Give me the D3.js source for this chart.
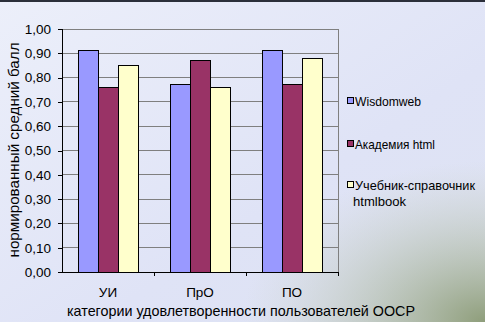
<!DOCTYPE html>
<html>
<head>
<meta charset="utf-8">
<script src="https://cdn.jsdelivr.net/npm/d3@7"></script>
<style>
  html, body { margin: 0; padding: 0; }
  body { width: 485px; height: 322px; overflow: hidden; }
  svg { display: block; font-family: "Liberation Sans", Arial, sans-serif; }
</style>
</head>
<body>
<div id="chart"></div>
<script>
const categories = ["УИ", "ПрО", "ПО"]
const seriesNames = ["Wisdomweb", "Академия html", "Учебник-справочник htmlbook"]
const wisdomweb = [0.91, 0.77, 0.91]
const akademia = [0.76, 0.87, 0.77]
const htmlbook = [0.85, 0.76, 0.88]
const yTicks = [0, 0.1, 0.2, 0.3, 0.4, 0.5, 0.6, 0.7, 0.8, 0.9, 1.0]
const colors = ["#9999ff", "#993366", "#ffffcc"]

const seriesValues = [wisdomweb, akademia, htmlbook]

const W = 485, H = 322
const margin = { top: 29, right: 147, bottom: 50, left: 62 }
const width = W - margin.left - margin.right
const height = H - margin.top - margin.bottom

const svg = d3.select("#chart").append("svg")
    .attr("width", W)
    .attr("height", H)

// background
const defs = svg.append("defs")
const bg = defs.append("linearGradient")
    .attr("id", "bg")
    .attr("x1", 0).attr("y1", 0).attr("x2", 1).attr("y2", 1)
bg.append("stop").attr("offset", "0%").attr("stop-color", "#eceffa")
bg.append("stop").attr("offset", "60%").attr("stop-color", "#dfe3f6")
bg.append("stop").attr("offset", "100%").attr("stop-color", "#dde2f2")
const glow = defs.append("radialGradient")
    .attr("id", "glow")
    .attr("cx", 1).attr("cy", 1).attr("r", 0.5)
glow.append("stop").attr("offset", "0%").attr("stop-color", "#8a9a74").attr("stop-opacity", 0.95)
glow.append("stop").attr("offset", "100%").attr("stop-color", "#c8d0c0").attr("stop-opacity", 0)

svg.append("rect").attr("width", W).attr("height", H).attr("fill", "url(#bg)")
svg.append("rect").attr("width", W).attr("height", H).attr("fill", "url(#glow)")
svg.append("rect").attr("width", W).attr("height", 2).attr("fill", "#2b2f3a")

const g = svg.append("g")
    .attr("transform", "translate(" + margin.left + "," + margin.top + ")")

const x0 = d3.scaleBand()
    .domain(categories)
    .range([0, width])
const x1 = d3.scaleBand()
    .domain(d3.range(seriesNames.length))
    .range([0, x0.bandwidth()])
    .paddingInner(0)
    .paddingOuter(0.8)
const y = d3.scaleLinear()
    .domain([0, 1])
    .range([height, 0])

// gridlines
g.append("g")
    .selectAll("line")
    .data(yTicks.slice(1))
    .enter()
    .append("line")
    .attr("x1", 0)
    .attr("x2", width)
    .attr("y1", d => y(d))
    .attr("y2", d => y(d))
    .attr("stroke", "#7f7f7f")
    .attr("stroke-width", 1)
    .attr("shape-rendering", "crispEdges")

// plot border
g.append("rect")
    .attr("width", width)
    .attr("height", height)
    .attr("fill", "none")
    .attr("stroke", "#7f7f7f")
    .attr("shape-rendering", "crispEdges")

// bars
const groups = g.append("g")
    .selectAll("g")
    .data(categories)
    .enter()
    .append("g")
    .attr("transform", d => "translate(" + x0(d) + ",0)")

groups.selectAll("rect")
    .data((d, i) => seriesValues.map((vals, s) => ({ s: s, v: vals[i] })))
    .enter()
    .append("rect")
    .attr("x", d => x1(d.s))
    .attr("width", x1.bandwidth())
    .attr("y", d => y(d.v))
    .attr("height", d => height - y(d.v))
    .attr("fill", d => colors[d.s])
    .attr("stroke", "#000")
    .attr("stroke-width", 1)
    .attr("shape-rendering", "crispEdges")

// y axis
const yAxis = g.append("g")
    .call(d3.axisLeft(y)
        .tickValues(yTicks)
        .tickSize(4)
        .tickPadding(7)
        .tickFormat(d => d3.format(".2f")(d).replace(".", ",")))
yAxis.select(".domain").attr("stroke", "#000").attr("shape-rendering", "crispEdges")
yAxis.selectAll(".tick line").attr("stroke", "#000").attr("shape-rendering", "crispEdges")
yAxis.selectAll("text").attr("font-size", 13.5).attr("fill", "#000")
    .attr("font-family", "'Liberation Sans', Arial, sans-serif")

// x axis
const xAxis = g.append("g")
    .attr("transform", "translate(0," + height + ")")
    .call(d3.axisBottom(x0).tickSize(0).tickPadding(15))
xAxis.select(".domain").attr("stroke", "#000").attr("shape-rendering", "crispEdges")
xAxis.selectAll("text").attr("font-size", 13.5).attr("fill", "#000")
    .attr("font-family", "'Liberation Sans', Arial, sans-serif")

// category separator ticks
g.append("g")
    .selectAll("line")
    .data(categories)
    .enter()
    .append("line")
    .attr("x1", d => x0(d) + x0.bandwidth())
    .attr("x2", d => x0(d) + x0.bandwidth())
    .attr("y1", height)
    .attr("y2", height + 4)
    .attr("stroke", "#000")
    .attr("shape-rendering", "crispEdges")

// axis titles
svg.append("text")
    .attr("x", 67)
    .attr("y", 316)
    .attr("font-size", 15)
    .attr("textLength", 348)
    .attr("lengthAdjust", "spacingAndGlyphs")
    .text("категории удовлетворенности пользователей ООСР")

svg.append("text")
    .attr("transform", "translate(19,150) rotate(-90)")
    .attr("text-anchor", "middle")
    .attr("font-size", 15.5)
    .attr("textLength", 215)
    .attr("lengthAdjust", "spacingAndGlyphs")
    .text("нормированный средний балл")

// legend
const legendRows = [
    { lines: [["Wisdomweb", 66]], y: 101 },
    { lines: [["Академия html", 80]], y: 144 },
    { lines: [["Учебник-справочник", 120], ["htmlbook", 53]], y: 185 }
]
const legend = svg.append("g")
    .selectAll("g")
    .data(legendRows)
    .enter()
    .append("g")
    .attr("transform", d => "translate(347," + d.y + ")")
legend.append("rect")
    .attr("x", 0.5)
    .attr("y", -3.5)
    .attr("width", 6)
    .attr("height", 6)
    .attr("fill", (d, i) => colors[i])
    .attr("stroke", "#000")
legend.append("text")
    .attr("y", 5)
    .attr("font-size", 13)
    .selectAll("tspan")
    .data(d => d.lines)
    .enter()
    .append("tspan")
    .attr("x", (d, i) => i === 0 ? 8 : 6)
    .attr("dy", (d, i) => i === 0 ? 0 : 16)
    .attr("textLength", d => d[1])
    .attr("lengthAdjust", "spacingAndGlyphs")
    .text(d => d[0])
</script>
</body>
</html>
